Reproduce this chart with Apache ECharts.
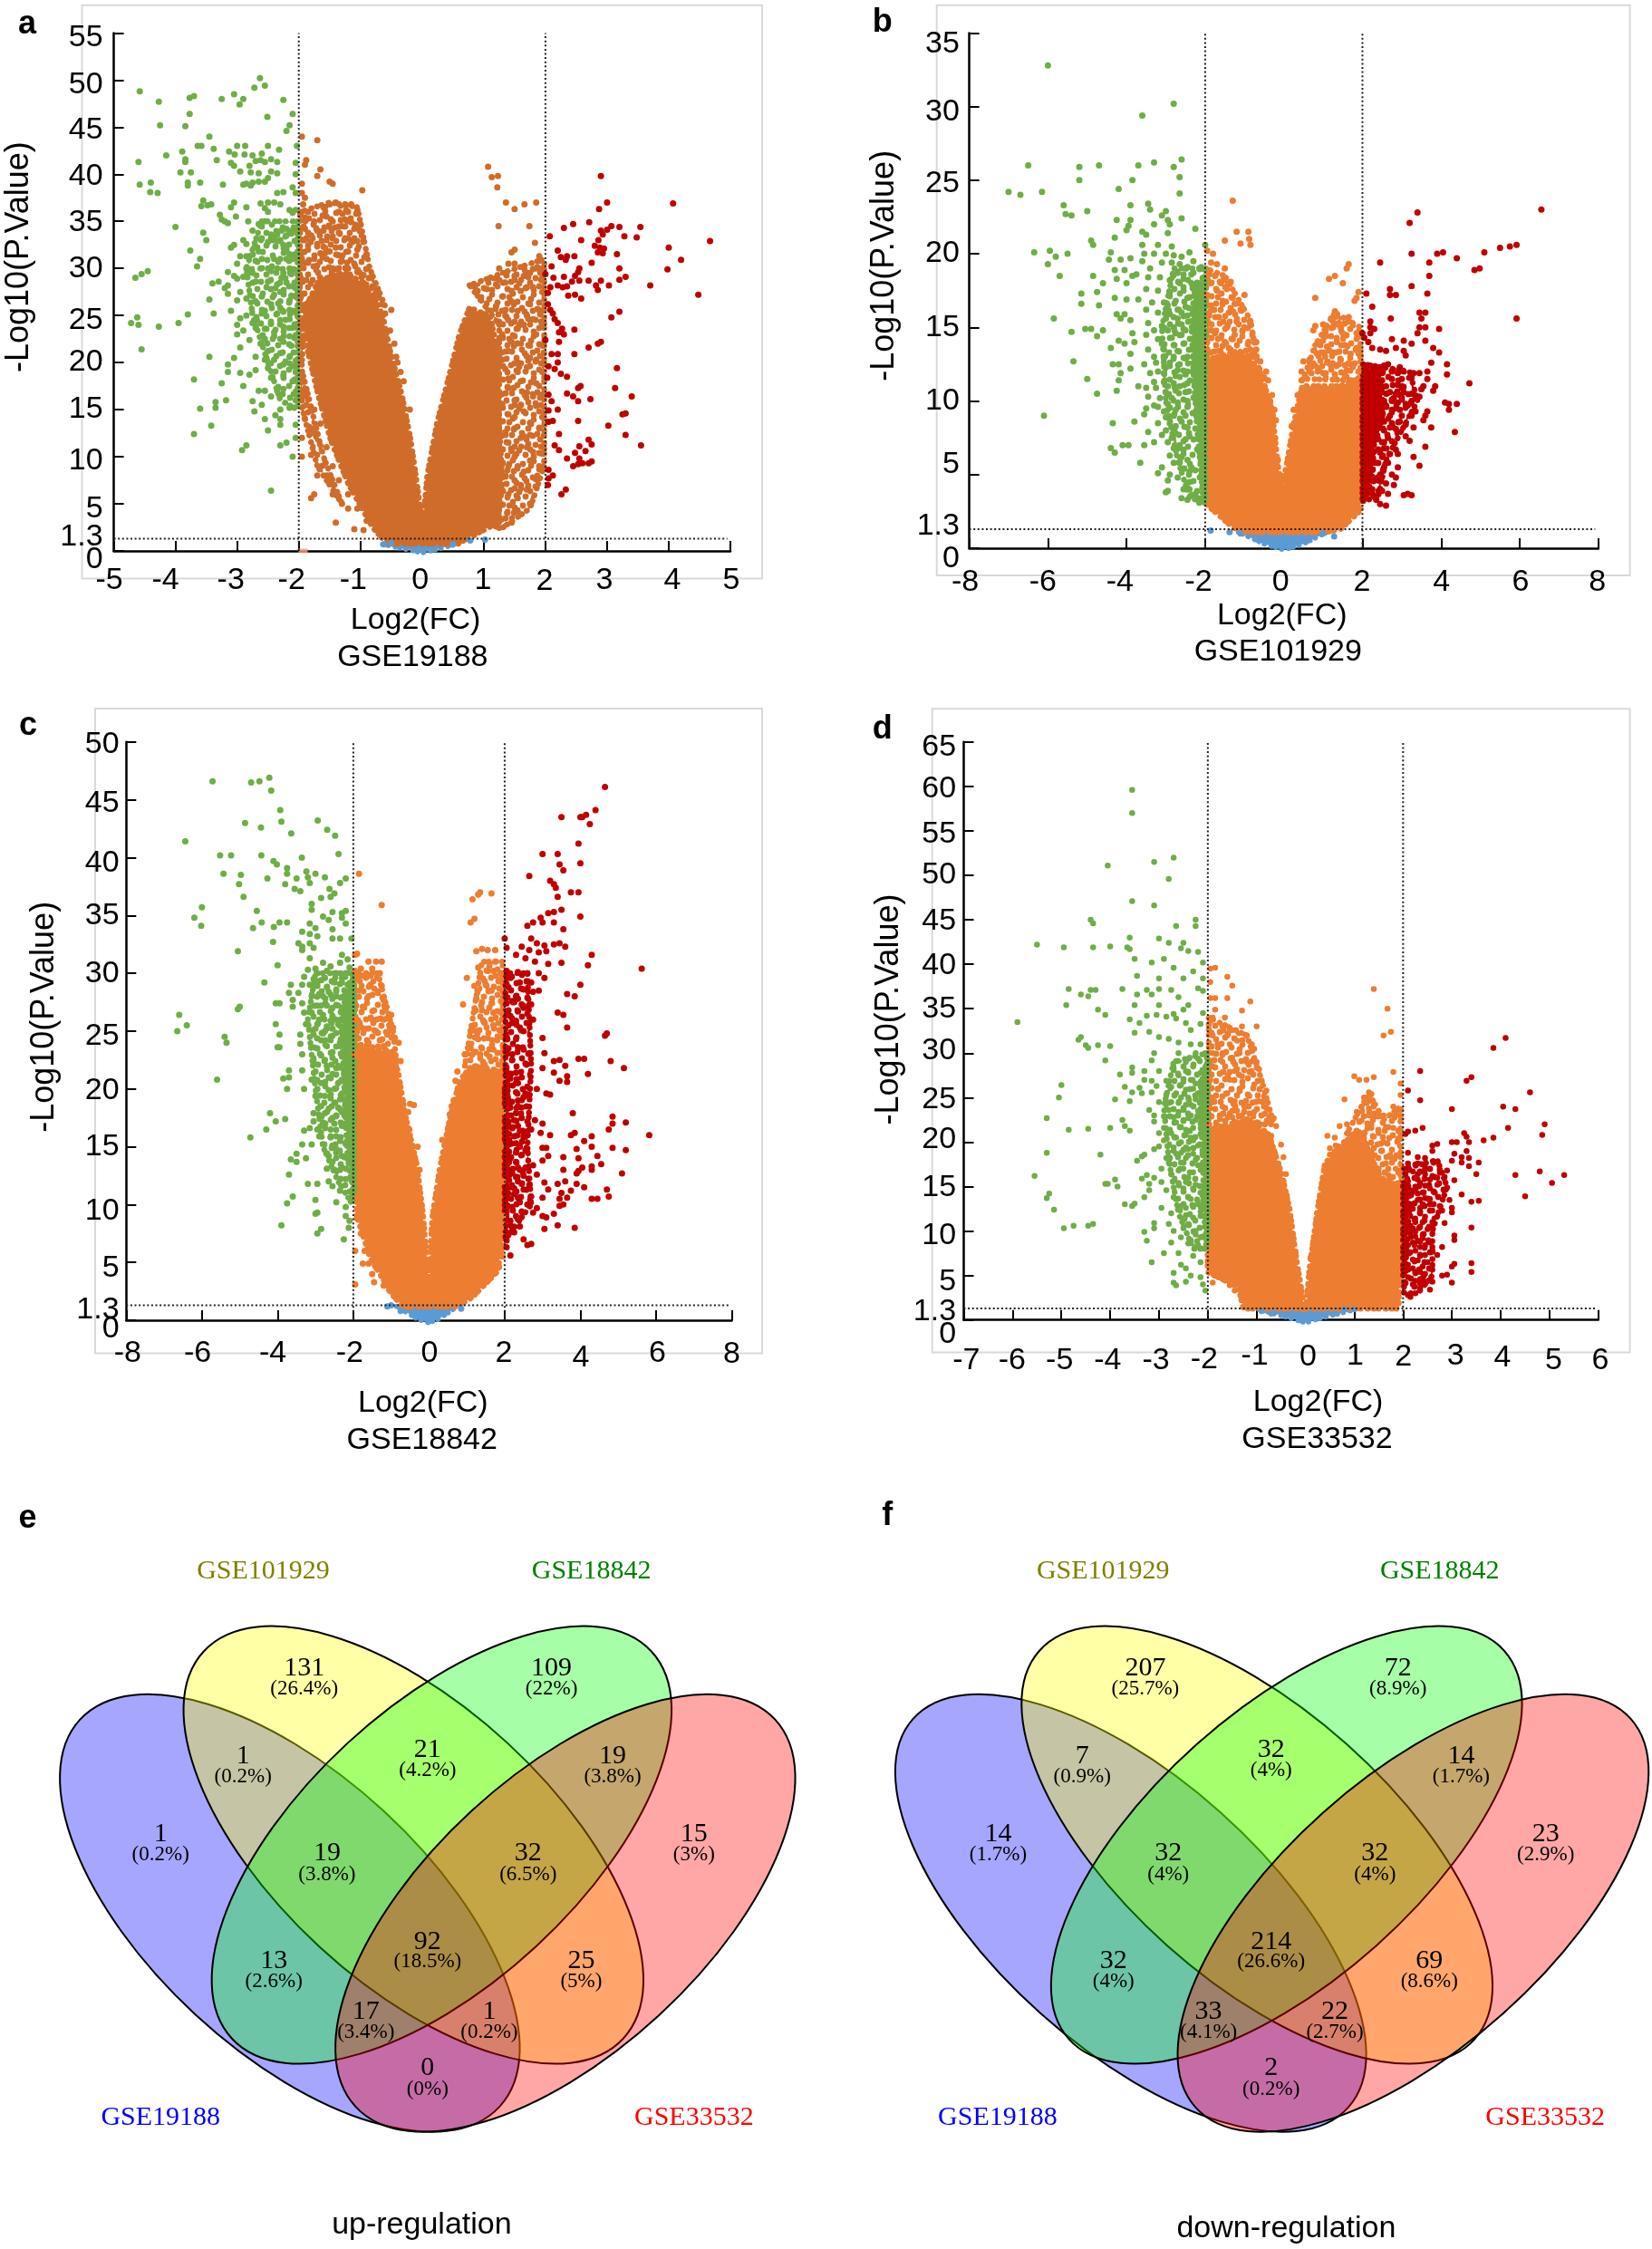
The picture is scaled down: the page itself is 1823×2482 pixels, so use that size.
<!DOCTYPE html>
<html>
<head>
<meta http-equiv="content-type" content="text/html; charset=utf-8" />
<script src="https://cdn.jsdelivr.net/npm/echarts@6/dist/echarts.min.js"></script>
<title>volcano and venn</title>
<style type="text/css">
* {margin:0; padding:0;}
body {background:#fff;}
#main {width:1823px; height:2482px;}
</style>
</head>
<body>
<div id="main"></div>
<script>
// ---- panel a, GSE19188 ----
var aXTicks = [-5,-4,-3,-2,-1,0,1,2,3,4,5];
var aYTicks = [55,50,45,40,35,30,25,20,15,10,5,1.3,0];
var aGreen = [[-4.58,48.8],[-4.27,47.7],[-3.77,48.1],[-3.7,48.3],[-3.25,48],[-3.05,48.5],[-2.9,48],[-2.96,47.4],[-2.72,49.2],[-2.63,50.2],[-2.55,49.4],[-2.25,47.9],[-2.51,46.1],[-2.1,46.4],[-2.15,45.2],[-2.2,44.6],[-4.25,45.2],[-3.77,46.4],[-3.84,45.1],[-3.45,44],[-3.64,43],[-3.58,43],[-3.38,42.7],[-3.89,42.4],[-4.15,42],[-3.84,41.6],[-3.84,41.3],[-4.6,41.3],[-3.33,41.5],[-3.13,42.4],[-3,43],[-2.87,43],[-3.04,42.1],[-2.88,42.1],[-2.5,43],[-2.32,42.6],[-2.03,43],[-3.92,40.2],[-3.75,40.2],[-4.58,38.9],[-4.4,39.1],[-4.41,38.1],[-4.29,38],[-3.8,39.1],[-3.8,38.8],[-3.6,39.1],[-3.23,38.9],[-2.75,42],[-2.6,42.2],[-2.7,41.4],[-2.62,41.5],[-2.55,41.3],[-2.45,41.6],[-2.35,41.3],[-2.05,41.2],[-2.8,40.9],[-3.1,41.2],[-3.05,40.9],[-2.95,40.3],[-2.78,40.2],[-2.65,40.1],[-2.45,40.3],[-2.5,39.6],[-2.35,40.1],[-2.05,40],[-2.85,39],[-2.78,38.8],[-2.9,38.9],[-2.55,39.2],[-2.65,39.2],[-2.75,39.1],[-2.25,38.1],[-2.35,38],[-2.1,38.6],[-2.05,38],[-3.55,37.2],[-3.58,36.6],[-3.48,36.7],[-3.42,36.8],[-3.05,37],[-3.1,36.5],[-2.85,36.5],[-2.62,36.9],[-2.5,37],[-2.4,37],[-2.3,36.8],[-2.55,36.4],[-2.5,36],[-2.15,36.2],[-2.05,36.2],[-2.1,35.9],[-3.28,35.7],[-3.25,35.2],[-3.2,35],[-3.15,34.8],[-3.02,35.5],[-2.82,35],[-2.65,34.7],[-2.55,35],[-2.2,34.2],[-4,34.4],[-2.45,33.6],[-2.4,33.3],[-2.35,33.6],[-2.3,33],[-2.42,33],[-2.35,32.9],[-2.28,34],[-2.2,33.5],[-2.12,33.7],[-2.05,34],[-2.25,32.5],[-2.2,32],[-2.15,31.5],[-2.1,31],[-2.05,31.2],[-2.2,31],[-2.3,31],[-2.4,31],[-2.6,31],[-2.7,30.8],[-3.55,33.8],[-3.5,33],[-3.76,31.9],[-3.6,31],[-3.65,30.2],[-3.05,32.5],[-2.85,32.6],[-2.72,32.2],[-2.95,31.3],[-3,30.5],[-2.85,30],[-2.62,30],[-2.45,29.7],[-2.25,29.5],[-2.05,29.8],[-4.65,29],[-4.55,29.4],[-4.45,29.7],[-3.4,28.4],[-3.3,28.6],[-3.15,28.2],[-3,28.9],[-2.9,29.1],[-2.7,28.6],[-2.5,28.6],[-2.35,28.3],[-2.2,28.5],[-2.1,28.1],[-2.05,27.9],[-3.45,26.7],[-3.15,27.3],[-3,26.6],[-2.85,26.8],[-2.6,27],[-2.4,27.2],[-2.25,27.5],[-2.12,27.1],[-2.3,25.8],[-2.35,25.2],[-2.25,25.4],[-2.15,25.6],[-2.05,25.3],[-2.6,25.2],[-2.85,25],[-3.38,25.2],[-3.8,25.1],[-4.62,24.8],[-4.72,24.2],[-4.6,24],[-3.95,24.2],[-4.27,23.8],[-3,24],[-2.9,23.4],[-2.7,23.7],[-2.45,24.1],[-2.25,23.8],[-2.1,23.7],[-2.05,22.9],[-2.8,22.4],[-2.55,22.5],[-2.4,22.8],[-2.25,22.2],[-4.55,21.4],[-2.95,21.6],[-3.05,20.5],[-3.45,20.6],[-2.7,20.6],[-2.5,21.2],[-2.3,21],[-2.15,20.6],[-2.05,20.2],[-2.1,19.6],[-2.25,19.8],[-3.15,19.8],[-2.95,18.9],[-2.8,18.7],[-2.45,18.4],[-2.05,19],[-3.7,18.2],[-3.25,17.8],[-2.65,17],[-2.55,17],[-2.25,17.2],[-2.05,16.9],[-3.35,15.8],[-3.18,16],[-2.75,15.9],[-2.05,16],[-3.6,15.1],[-3.35,15.2],[-2.72,14.8],[-2.3,15],[-2.15,15.2],[-2.38,14.4],[-2.3,14],[-3.42,13.3],[-2.05,13.4],[-3.7,12.4],[-2.5,12.8],[-2.05,12],[-2.2,11.5],[-2.85,11.2],[-2.92,10.7],[-2.3,11.2],[-2.1,10],[-2.45,6.4],
	[-2.6,33.2],[-2.5,32.8],[-2.15,30],[-2.35,30],[-2.5,30],[-2.28,29],[-2.12,29.4],[-2.45,27.8],[-2.3,27.5],[-2.15,26.6],[-2.3,26.5],[-2.45,26.2],[-2.55,25.5],[-2.15,24.6],[-2.3,24.5],[-2.4,23.2],[-2.15,22.8],[-2.55,23.6],[-2.68,24.5],[-2.62,22],[-2.3,22.5],[-2.12,21.8],[-2.4,20.3],[-2.15,19.9],[-2.25,18.6],[-2.1,18],[-2.35,17],[-2.75,34],[-2.9,33],[-3.1,32.2],[-2.65,31.8],[-2.85,31.3],[-3.15,29.6],[-3.05,29.2],[-2.75,29.5],[-3.2,27.9],[-2.95,27.5],[-2.7,26.5],[-3.1,25.5],[-2.95,24.7],[-2.75,24.2],[-3,23],[-2.55,20.3],[-2.7,19.2],[-2.5,19.4],[-3.15,19],[-2.9,17.5],[-2.45,16.4],[-2.6,15.5],[-2.3,13.4],[-2.55,14]];
var aRed = [[2.9,39.8],[3,37],[2.87,36.3],[4.07,36.9],[4.67,32.9],[4,32.2],[4.2,30.9],[3.98,29.9],[3.7,28.2],[4.48,27.2],[3.54,34.4],[3.48,33.3],[3.28,33.4],[3.2,34.4],[3.07,34.5],[3,34.1],[2.9,34],[2.93,33.6],[2.71,34.9],[2.45,34.7],[2.3,34.3],[2.07,33.4],[2.58,33],[2.86,33],[2.8,32.4],[2.88,32.2],[2.95,32.1],[2.93,31.6],[2.85,31.7],[3.16,31.5],[3.2,30],[2.75,30.6],[2.2,31.9],[2.25,31.2],[2.35,31.3],[2.47,31.3],[2.33,30.9],[2.55,30],[2.53,29.6],[2.48,29.2],[2.1,30.2],[2,29.4],[2.13,29],[2.3,29.1],[2.43,28.6],[2.55,28.7],[2.7,28.7],[2.9,28.7],[2.82,28.2],[3.2,28.8],[3.3,29.1],[3.03,28.2],[2.85,27.7],[2.2,28.2],[2.08,28],[2.04,27.4],[2.35,28.1],[2.28,28],[2.37,27.1],[2.48,27.2],[2.58,26.8],[2.04,26.2],[2.08,25.6],[2.12,25.2],[2.15,24.6],[2.2,24.2],[2.27,23.6],[2.22,23.2],[2.3,23],[2.47,23.5],[2.22,22.2],[2,22.4],[3.2,25.4],[3.07,24.8],[2.9,22.2],[2.85,22],[2.7,21.6],[2.1,20.9],[2.2,20.9],[2.47,20.9],[2.05,19.6],[2.15,19.3],[2.2,20],[2.25,18.8],[2.35,18.5],[2.03,18.4],[3.16,19.4],[2.57,17.5],[2.53,17.3],[3.13,17.3],[3.4,16.4],[2.05,16.6],[2.35,16.7],[2.45,16.4],[2.73,16.1],[2.53,15.9],[2.1,15.9],[2.05,14.9],[2.2,15],[3.3,14.6],[3.25,14.5],[2.53,13.8],[2.12,13.8],[2.05,13.7],[3.02,13.3],[3.3,12.3],[2.22,12.4],[2.7,11.8],[2.75,11.3],[2.55,11.1],[2.15,11.2],[2.22,10.7],[3.55,11.2],[2.48,10.4],[2.65,10.6],[2.35,9.8],[2.55,9.8],[2.7,9.3],[2.53,9.2],[2.6,9.3],[2.75,9.5],[2.45,9],[2.05,8.6],[2.12,8],[2.05,7.7],[2.04,7],[2.33,6.5],[2.26,6]];
var aOrange = [[-1.95,44],[-1.7,43.6],[-1.88,41.5],[-1.9,41],[-1.65,40.5],[-1.7,39.8],[-1.5,39.2],[-1.45,39],[-1.95,39],[-1.95,38],[-1.9,37.5],[-1.93,36.8],[-0.97,38.3],[-1.85,36],[-1.6,36.5],[-1.5,36.8],[-1.4,37],[-1.25,36.8],[-1.15,36.8],[-1.2,36],[-1.35,36],[-1.9,35.4],[-1.75,35],[-1.55,35.5],[-1.45,35],[-1.05,36.2],[-1,34.6],[-1.1,34.2],[-1.3,34.5],[-1.6,34],[-1.8,33.5],[-1.45,33.4],[-1.25,33.2],[-0.95,32.8],[-0.9,31.5],[-1.05,32],[-1.2,31.8],[-1.4,32.2],[-1.6,32.3],[-1.85,32],[-1.95,31],[-1.75,31],[-1.55,31],[-1.3,30.8],[-1.1,30.5],[-0.85,29],[-0.75,27.5],[-0.65,26.2],[-0.5,25.6],[-0.45,22],[-0.4,20],[-0.3,18],[-0.2,15],[-1.95,16],[-1.9,14],[-1.95,12],[-1.8,13],[-1.95,10],[-1.8,10.2],[-1.7,8],[-1.75,6],[-1.8,5.6],[-1.55,8],[-1.45,6],[-1.3,5],[-1.2,4.5],[-1.4,3],[-1.1,2.3],[-0.95,2.2],[1.07,40.8],[1.13,39.7],[1.23,39.8],[1.22,38.6],[1.36,37],[1.5,36.3],[1.66,36.8],[1.85,37],[1.24,34.5],[1.74,34.5],[1.83,32.7],[1.5,32],[1.45,31.7],[1.9,31.3],[1.25,30],[1.4,30.5],[1.5,30.5],[1.85,30],[1.75,29.5],[1.65,29.2],[1.5,29.2],[1.35,28.5],[1.2,28.3],[1.05,27.8],[0.8,28.2],[0.9,27.6],[1.95,29],[1.95,27.5],[1.8,28],[1.6,27.6],[1.45,26.5],[1.3,27],[1.75,26.2],[1.55,25.5],[1.9,25.6],[1.8,24.6],[1.4,24.5],[1.65,24],[1.95,24],[1.85,23],[1.5,22.8],[1.3,23],[1.6,22],[1.75,21.8],[1.95,21.8],[1.4,21.2],[1.85,20.3],[1.55,20],[1.7,19.5],[1.35,19.3],[1.95,19],[1.6,18],[1.85,17.8],[1.4,17.3],[1.7,16.8],[1.95,16.6],[1.5,16],[1.85,15.4],[1.65,14.8],[1.4,14.5],[1.95,14.2],[1.75,13.6],[1.5,13],[1.9,13],[1.6,12],[1.4,11.5],[1.7,11],[1.95,10.3],[1.5,10],[1.75,9.6],[1.4,9],[1.9,9],[1.65,8.4],[1.5,7.5],[1.85,7.6],[1.7,6.5],[1.55,5.6],[1.75,5],[1.5,4.6],[1.38,4],[1.2,2.6],
	[-1.9,34.2],[-1.7,34],[-1.5,34.4],[-1.25,35.2],[-1.15,34.9],[-1.35,33.8],[-1.55,33],[-1.7,32.6],[-1.9,33],[-1.15,33],[-1.05,32.9],[-1.35,31.4],[-1.5,31.8],[-1.65,31.6],[-1.85,30.6],[-1.7,30.3],[-1.45,30],[-1.2,30],[-1.05,29.6],[-0.95,29.3],[-0.8,28],[-0.7,26.9],[-0.6,25.2],[-0.52,23.4],[-0.42,20.6],[-0.35,19],[-1.97,29],[-1.97,27],[-1.97,24],[-1.97,22],[-1.97,20],[-1.93,18],[-1.9,16.5],[-1.75,15],[-1.65,13.5],[-1.55,11],[-1.45,9],[-1.35,7.5],[-1.2,6],[-1.05,4.5],[-0.9,3.2],[1.45,3],[1.55,4.2],[1.4,6],[1.6,7],[1.35,8],[1.55,9],[1.45,10.6],[1.8,10.5],[1.35,12.6],[1.75,12.3],[1.5,14.2],[1.3,15.6],[1.6,15.5],[1.8,16.4],[1.4,18.3],[1.55,19],[1.75,20.5],[1.3,20.3],[1.45,22.2],[1.55,23.6],[1.35,25],[1.7,25],[1.2,26],[0.95,26.7],[1.45,27.6],[1.7,28],[1.2,29],[1.95,30]];
var aBody = [[0,2.5],[-0.07,6.3],[-0.19,11.8],[-0.33,16.5],[-0.52,21.2],[-0.64,24.9],[-0.88,28.2],[-1.28,29.6],[-1.68,28.6],[-1.89,25.8],[-1.85,21.2],[-1.68,16.5],[-1.48,11.8],[-1.2,7.2],[-0.8,2.5],[-0.56,0.75],[0.57,0.75],[1.22,3],[1.3,7.2],[1.26,11.8],[1.22,16.5],[1.22,21.2],[1.1,24.9],[0.77,25.8],[0.61,23],[0.45,18.8],[0.25,13.7],[0.09,8.1],[0.01,2.5]];
var aOrangeZones = [[[-1.98,36],[-1.5,37],[-1.05,36.5],[-0.85,30],[-0.6,26],[-1.2,28],[-1.9,26],[-1.98,16],[-1.7,9],[-1.3,5],[-1.6,10],[-1.98,20]],[[0.77,28.2],[1.3,29.5],[1.98,31],[1.98,9],[1.75,4.5],[1.25,2.2],[1.25,24]]];
var aGreenZones = [[[-2.02,35],[-2.6,35],[-2.85,30],[-2.75,25],[-2.5,20],[-2.3,16],[-2.02,15]]];
var aRedZones = [];
var aBlue = [[-0.64,0.7],[0.65,0.9],[0.2,0.1],[0,-0.2],[-0.2,0.1]];
var aBlueDots = [[1.02,1.2],[0.78,1.1],[0.5,0.7],[-0.62,0.7],[-0.5,0.8]];

// ---- panel b, GSE101929 ----
var bXTicks = [-8,-6,-4,-2,0,2,4,6,8];
var bYTicks = [35,30,25,20,15,10,5,1.3,0];
var bGreen = [[-6,32.8],[-2.8,30.2],[-3.6,29.4],[-6.5,26],[-5.2,25.9],[-4.7,26],[-3.7,26],[-3.3,26.2],[-2.8,25.9],[-2.6,26.4],[-2.65,25.2],[-5.2,25],[-3.85,25],[-4.2,24.4],[-6.15,24.2],[-7,24.2],[-6.7,24],[-2.65,24.1],[-5.6,23.3],[-3.9,23.3],[-3.45,23.4],[-3.4,23],[-5.55,22.7],[-5.4,22.6],[-5,22.9],[-3,22.9],[-3.1,22.6],[-2.95,22.3],[-4.25,22.3],[-3.9,22.3],[-2.6,22.4],[-3.3,22],[-2.9,22],[-3.95,21.9],[-3.6,21.5],[-4,21.6],[-2.25,21.7],[-2.95,21.4],[-3.5,21.3],[-4.3,21.1],[-4.9,20.9],[-4.85,20.6],[-2,20.6],[-6.35,20.1],[-5.95,20.2],[-5.8,19.8],[-5.5,20],[-4.4,20.1],[-6,19.3],[-3.6,20.6],[-3.2,20.6],[-2.85,20.5],[-3.55,20],[-3.3,20],[-3,20],[-2.8,19.9],[-2.6,19.8],[-2.4,20.1],[-4.45,19.6],[-4.15,19.6],[-3.9,19.7],[-3.6,19.5],[-3.1,19.4],[-2.85,19.4],[-2.65,19.3],[-2.45,19.1],[-2.1,19.1],[-3.4,19],[-4.3,18.9],[-4.05,18.9],[-3.75,18.6],[-3.45,18.4],[-3.15,18.4],[-2.9,18.2],[-2.65,18],[-4.85,18.5],[-5.7,18.5],[-4.6,18],[-4.25,18.3],[-4,18],[-3.85,18.5],[-3.5,17.6],[-3.2,17.5],[-2.9,17.4],[-2.55,17.5],[-5.15,17.3],[-4.75,17.4],[-4.3,17],[-4,16.9],[-3.7,16.9],[-3.35,16.7],[-3.05,16.7],[-2.75,16.8],[-5.15,16.6],[-4.7,16.5],[-3.5,16.2],[-3.2,16],[-2.9,15.9],[-2.6,16],[-4.25,15.9],[-4.05,15.9],[-4.15,15.6],[-3.9,15.5],[-5.85,15.6],[-4.9,14.9],[-4.6,14.8],[-3.45,15.3],[-3.1,15.1],[-2.8,15],[-5.4,14.7],[-5.05,14.9],[-4.75,14.4],[-3.85,14.6],[-3.5,14.5],[-3.2,14.2],[-2.85,14.3],[-2.6,14.5],[-4.2,14.1],[-4.05,13.9],[-3.8,14],[-3.45,13.5],[-3.05,13.5],[-2.7,13.4],[-4.4,13.6],[-4.35,12.5],[-4.2,12.5],[-5.35,12.7],[-3.9,13.2],[-3.55,12.5],[-3.25,12.6],[-2.9,12.6],[-2.65,12.5],[-4.15,11.9],[-3.9,12.2],[-3.4,11.9],[-3.05,11.9],[-2.75,11.7],[-5,11.5],[-4.2,11.4],[-3.7,11],[-3.5,10.9],[-3.25,10.9],[-2.95,11],[-2.65,11],[-4.75,10.5],[-4.25,10.7],[-3.45,10.3],[-3.15,10.2],[-2.85,10.2],[-6.1,9],[-3.5,9.5],[-3.3,9.7],[-3.05,9.3],[-2.75,9.4],[-4.35,8.5],[-3.8,8.6],[-3.55,9.1],[-3.2,8.5],[-2.9,8.5],[-2.6,8.6],[-3.45,7.9],[-3.1,7.7],[-2.75,7.8],[-3.3,7.2],[-2.95,7.2],[-2.65,7],[-3.55,7],[-3.95,7],[-4.1,7],[-4.4,6.8],[-4.3,6.5],[-2.9,6.3],[-2.6,6.2],[-3.65,5.8],[-3.1,5.5],[-2.8,5.8],[-2.55,5.4],[-3.2,5.1],[-2.9,5],[-2.95,4.6],[-2.4,4.5],[-2.55,4],[-2.95,3.9],[-3,3.8],[-2.35,3.6],[-2.45,3.3],[-2.2,3.4],[-2.15,3.1],[-2.4,5.2],[-2.5,7.4],[-2.45,9.6],[-2.5,11.8],[-2.45,13],[-2.6,15.2],[-2.45,17],[-2.35,18.6],[-2.2,17.4],[-2.15,19],
	[-2.5,19],[-2.3,19.5],[-2.7,18.7],[-2.35,18],[-2.55,18.3],[-2.5,16.4],[-2.7,16.2],[-2.95,16.5],[-2.45,15.8],[-2.7,15.6],[-3,15.6],[-2.5,14.8],[-2.75,14.6],[-2.95,14.8],[-3.3,14.8],[-2.55,13.9],[-2.8,13.8],[-3.1,13.9],[-2.5,12.9],[-2.8,13],[-3.3,13],[-3.05,12.9],[-2.45,12],[-2.7,12.1],[-3,12.3],[-3.2,12],[-2.45,11.2],[-2.8,11.2],[-3.05,11.3],[-3.3,11.3],[-2.5,10.6],[-2.75,10.7],[-3,10.6],[-3.2,9.6],[-2.45,10],[-2.7,9.9],[-2.95,9.8],[-2.5,9],[-2.8,9],[-3,8.9],[-2.45,8.2],[-2.75,8.3],[-3,8],[-2.4,7.6],[-2.85,7.5],[-2.55,6.7],[-2.8,6.8],[-2.45,6],[-2.65,5.8],[-2.35,5.5],[-2.7,4.8],[-2.4,4],[-2.25,3.7],[-2.6,3.4]];
var bGreenBody = [[-2,18],[-2.25,18],[-2.35,15.5],[-2.3,12],[-2.2,8],[-2.1,5],[-2.05,3.2],[-2,3.2]];
var bRed = [[6.55,23],[3.4,22.8],[3.2,22.1],[5.92,20.6],[5.75,20.5],[5.5,20.4],[5.1,20.1],[4.05,20.1],[3.9,20],[3.25,20],[4.4,19.7],[4.98,19],[4.85,18.9],[2.45,19.4],[3.7,19.4],[3.7,18.5],[3.25,17.8],[2.7,17.6],[2.1,17.3],[2.7,17.2],[2.85,17.2],[3.65,17.3],[5.92,15.6],[2.25,16.4],[3.45,16],[3.6,16],[3.5,15.6],[2.72,15.6],[2.2,15.4],[2.2,15],[2.3,14.9],[2.2,14.6],[3.45,15],[3.6,15],[3.4,14.6],[3.95,14.9],[2,14.6],[2.05,14.3],[2.15,14],[2.75,14.2],[3.05,14.1],[3.6,14.1],[2.25,13.6],[2.45,13.5],[2.6,13.4],[2.85,13.6],[3.25,13.9],[3.05,13.4],[3.8,13.6],[3.95,13.3],[3.1,13.1],[3.75,12.6],[4.15,12.5],[2.2,12.4],[2.4,12.3],[2.55,12.4],[2.65,12.5],[2.9,11.9],[3.45,11.9],[3.05,12],[3.65,12],[4.15,11.8],[3.3,11.9],[2.5,11.4],[2.75,11.5],[3,11.5],[3.25,11.6],[3.65,11.5],[2.6,11],[3,11],[3.55,11],[3.85,11],[4.72,11.2],[2.85,10.5],[3.05,10.6],[3.25,10.5],[3.5,10.8],[3.8,10.7],[2.6,10.5],[2.75,10],[3,10.1],[3.25,10],[3.45,10.3],[3.15,9.7],[2.6,9.7],[2.85,9.5],[3.35,9.3],[4.2,9.8],[4.1,9.9],[4.4,9.8],[4.2,9.4],[3.65,9.3],[3,9],[2.7,9],[3.25,9],[3.6,9],[3.55,8.7],[3.3,8.2],[3.1,8.4],[2.85,8.1],[3.75,8.2],[4.35,7.9],[3.1,7.6],[2.65,7.5],[3.2,7.3],[3.6,6.9],[2.55,6.8],[2.85,6.7],[2.9,6.4],[2.5,6.2],[3.3,6.2],[3.45,5.6],[2.65,5.8],[2.9,5.5],[2.75,5],[2.85,4.8],[2.4,4.6],[2.6,4.4],[2.8,4.3],[2.5,3.9],[2.65,3.7],[3.15,3.7],[3.25,3.6],[3.05,3.6],[2.3,3.5],[2.45,3],[2.6,2.9],
	[2.5,11.9],[2.75,12],[2.95,12.3],[2.35,11.2],[2.9,11.1],[2.45,10.7],[2.7,10.6],[2.95,10.4],[2.4,10],[2.55,10],[2.9,9.9],[2.35,9.4],[2.5,9.2],[2.75,9.4],[2.95,9.4],[2.35,8.8],[2.55,8.6],[2.75,8.5],[2.95,8.6],[2.35,8],[2.55,8],[2.7,8.2],[2.4,7.4],[2.55,7.2],[2.3,6.6],[2.45,6.5],[2.7,6.4],[2.35,5.8],[2.55,5.5],[2.25,4.8],[2.45,5],[2.25,4],[2.35,3.3],[3,10.9],[2.8,10.2],[3.1,9.8]];
var bRedBody = [[2,12],[2.35,12.3],[2.5,11],[2.5,8.8],[2.3,7.2],[2.25,5],[2.12,3.5],[2,3.2]];
var bOrange = [[-1.3,23.6],[-1.2,21.5],[-0.9,21.5],[-0.88,21],[-1.1,20.7],[-0.85,20.6],[-1.5,20.9],[-1.95,20.2],[-1.8,20],[-1.85,19.4],[-1.7,19.3],[-1.5,19],[-1.9,18.6],[-1.75,18.5],[-1.85,18],[-1.6,18],[-1.35,18.1],[-1.45,17.6],[-1.7,17.5],[-1.95,17.2],[-1.3,17],[-1,17.2],[-1.55,16.8],[-1.25,16.6],[-1.85,16.5],[-1.1,16.2],[-1.4,16],[-1.9,15.8],[-1.65,15.7],[-1.2,15.4],[-0.85,15.3],[-1.45,15],[-1.85,14.8],[-1.05,14.8],[-0.8,14.5],[-1.6,14.3],[-1.3,14.2],[-0.9,14],[-1.95,14],[-1.65,13.4],[-0.7,13.5],[-0.75,13],[-0.6,12.7],[-0.45,12],[-0.4,11.4],[-0.3,10.4],[-0.24,9.4],[-0.2,8.7],[-1.4,13.6],[-1.15,13.2],[0.8,17],[1.15,18.3],[1.3,18.5],[1.6,19],[1.65,19.3],[1.5,18],[1.9,17.4],[1.85,17],[1.8,16.8],[0.8,15.1],[1.3,16.1],[1.3,15.7],[1.4,15.3],[1.25,15],[1.65,15.7],[0.75,14.8],[1.05,14.4],[1.2,14.4],[1.5,14.6],[1.85,14.6],[1.35,14],[1.1,13.7],[0.95,13.3],[1.55,13.8],[1.85,13.6],[1.95,13],[1.25,13.3],[0.5,12.7],[0.65,12.8],[0.8,12.4],[1.1,12.6],[1.45,12.8],[1.7,12.5],[0.45,12],[0.7,11.9],[1,11.9],[1.3,11.8],[1.55,11.8],
	[-1.95,13.5],[-1.75,14.6],[-1.5,14],[-1.25,14.5],[-1,15],[-0.7,14],[-0.85,13.5],[-0.5,11.6],[-0.35,10],[-0.28,9],[-0.22,7.5],[-0.15,6],[-0.1,5],[0.2,8.3],[0.25,9.4],[0.35,10.4],[0.45,11.4],[0.55,11.6],[0.9,12.2],[1.2,12.4],[1.6,12.1],[1.9,12],[1.4,12.5],[1.05,13],[1.7,13.2],[1.45,15],[1,15.2],[1.2,15.6]];
var bBody = [[-0.05,3.5],[-0.18,6.2],[-0.31,9.5],[-0.63,12.2],[-1.15,13.4],[-1.93,12.8],[-2.05,4.4],[-1.93,2.9],[-1.28,1.4],[-1,1.1],[1.05,1.1],[1.44,1.3],[1.95,2.6],[1.95,11.6],[1.44,11],[0.47,11],[0.27,8.6],[0.01,4.7]];
var bOrangeZones = [[[-1.98,19],[-1.5,18.5],[-0.85,15.5],[-0.63,12.2],[-1.95,12.8]],[[0.5,11.5],[0.8,13.8],[1.3,16],[1.95,15],[1.95,11.4]]];
var bGreenZones = [[[-2.02,19],[-2.8,19],[-3.1,15],[-3,10],[-2.7,6],[-2.4,3.5],[-2.02,3]]];
var bRedZones = [[[2.02,12.5],[3.2,12],[3.4,10],[3,8],[2.6,6],[2.4,3.5],[2.02,3.2]]];
var bBlue = [[-1.15,1.1],[1.1,1.1],[0.5,0.3],[0,-0.1],[-0.5,0.3]];
var bBlueDots = [[-1.86,1.2],[-1.38,1.1],[1.28,0.8],[-1.1,1],[1,1]];

// ---- panel c, GSE18842 ----
var cXTicks = [-8,-6,-4,-2,0,2,4,6,8];
var cYTicks = [50,45,40,35,30,25,20,15,10,5,1.3,0];
var cGreen = [[-5.72,46.6],[-4.7,46.5],[-4.48,46.6],[-4.22,46.9],[-4.17,45.8],[-3.93,44.1],[-3.9,43.1],[-4.86,43],[-4.44,42.6],[-3.64,42.1],[-2.94,43.2],[-2.69,42.4],[-2.48,41.9],[-6.44,41.4],[-5.52,40.2],[-5.23,40.2],[-4.43,40.2],[-4.11,39.7],[-4.02,39.4],[-3.36,40],[-2.39,40.3],[-3.75,39.1],[-5.43,38.6],[-4.97,38.5],[-4.27,38.2],[-3.75,38.6],[-3.5,38.2],[-3.24,38.8],[-3.2,38.3],[-3,38.6],[-2.75,38.3],[-2.35,37.8],[-2.2,38.2],[-5.02,37.7],[-3.8,37.7],[-3.55,37.3],[-3.4,37.1],[-3.15,37.8],[-2.63,37.3],[-2.5,36.9],[-4.9,36.6],[-2.85,36.5],[-2.6,36.6],[-3.1,36],[-3.1,35.5],[-4.55,35.4],[-2.55,35.3],[-2.3,35.2],[-2.2,35.4],[-6.2,34.8],[-6,35.7],[-6.02,34.1],[-4.42,34.4],[-4.65,33.9],[-4.1,34],[-3.95,34.4],[-3.75,34.4],[-2.8,34.9],[-2.65,34.6],[-2.3,34.8],[-2.2,34.3],[-3.15,34.3],[-3,33.9],[-3.35,33.6],[-2.55,33.8],[-3.15,33.4],[-2.95,33.2],[-2.55,33],[-2.35,33],[-2.05,33],[-4.12,32.7],[-3.45,32.6],[-3.35,32.3],[-3.15,32.6],[-3.05,32.2],[-3.35,32],[-5.05,31.9],[-2.3,31.6],[-2.15,31.2],[-3.15,31.3],[-2.8,30.9],[-2.6,30.6],[-2.35,30.9],[-2.1,30.5],[-4,30.7],[-3.2,30.3],[-3,30.4],[-2.7,30.2],[-2.45,30],[-2.2,30],[-3.3,29.7],[-3.05,29.5],[-2.85,29.4],[-2.55,29.3],[-2.3,29.2],[-3.35,29],[-3.15,29],[-2.95,28.9],[-2.7,28.8],[-2.45,28.6],[-4.35,29.2],[-3.65,29],[-3.7,28.3],[-3.45,28.3],[-3.1,28],[-2.8,28],[-2.55,27.8],[-3.6,27.7],[-3.35,27.4],[-2.95,27.2],[-2.7,27.2],[-2.4,27.2],[-4.05,27.4],[-3.95,27.4],[-5.05,26.9],[-5,27.1],[-3.6,27.1],[-3.3,26.6],[-3.1,26.6],[-2.8,26.4],[-2.55,26.3],[-6.6,26.4],[-6.4,25.5],[-6.65,25],[-4.05,25.6],[-3.25,25.6],[-2.95,25.6],[-2.7,25.4],[-2.4,25.6],[-3.95,24.7],[-3.4,24.7],[-3.05,24.7],[-2.8,24.8],[-2.55,24.6],[-5.4,24.5],[-5.35,24],[-3.4,23.9],[-3.95,23.6],[-4,23.6],[-2.95,23.5],[-2.7,23.7],[-2.35,23.7],[-3.35,23],[-2.85,22.9],[-2.55,22.7],[-3.05,22.3],[-2.7,22],[-2.4,22],[-3.35,21.6],[-3,21.5],[-2.55,21.3],[-3.85,20.9],[-3.7,21],[-5.6,20.8],[-3.7,21.6],[-3.1,20.8],[-2.85,20.5],[-2.4,20.5],[-3.75,20],[-3.3,20],[-2.95,20],[-2.65,19.9],[-3,19.4],[-2.6,19.2],[-2.35,19.1],[-2.85,18.5],[-2.4,18.4],[-4.2,17.9],[-3.05,17.9],[-2.75,17.9],[-2.45,17.7],[-4.05,17.2],[-3.8,17.4],[-3.05,17.2],[-2.8,17.1],[-2.5,17],[-4.3,16.5],[-3.3,16.4],[-3.15,16.6],[-2.95,16.5],[-2.6,16.5],[-4.72,15.8],[-2.9,15.9],[-2.45,15.9],[-3.35,15.2],[-3.1,15.2],[-2.55,15.1],[-3.5,14.4],[-3.65,13.9],[-3.5,13.7],[-3.25,14],[-2.65,14.2],[-2.45,14.5],[-3.7,12.6],[-2.7,13.1],[-2.5,13],[-2.35,13],[-3.2,11.8],[-2.95,11.8],[-2.65,12],[-2.55,11.6],[-2.35,11.2],[-3.6,10.7],[-3.75,10.1],[-3,10.4],[-2.45,10.2],[-2.95,9.3],[-3,9.2],[-2.2,9.8],[-2.2,9],[-3.9,8.2],[-2.1,8.6],[-2.12,8],[-2.85,7.9],[-2.95,7.5],[-2.25,7],
	[-2.3,29.6],[-2.15,29],[-2.5,29.2],[-2.75,29.6],[-2.95,30],[-2.25,28],[-2.45,28],[-2.65,28.4],[-2.9,28.2],[-2.3,27],[-2.55,27],[-2.85,27.2],[-2.35,26],[-2.6,25.9],[-2.9,26],[-2.3,25],[-2.55,25.2],[-2.75,25],[-3,25.2],[-2.35,24],[-2.6,24.2],[-2.85,24.2],[-2.55,23.2],[-2.3,22.8],[-2.75,22.5],[-2.45,21.8],[-2.65,21],[-2.3,20.8],[-2.5,20],[-2.3,19.6],[-2.75,19.4],[-2.5,18.8],[-2.65,18.3],[-2.3,18],[-2.55,17.5],[-2.3,16.8],[-2.6,15.8],[-2.35,15.5],[-2.45,14.8],[-2.3,14.2],[-2.55,13.7],[-2.3,13.2],[-2.2,12.2]];
var cGreenBody = [[-1.98,29],[-2.2,28.6],[-2.3,25],[-2.25,21],[-2.2,17],[-2.15,14],[-2.05,12],[-1.98,11]];
var cRed = [[4.65,46.1],[4.4,44.1],[3.5,43.5],[4,43.5],[4.05,43.5],[4.15,43.7],[4.25,42.9],[3.95,41.2],[3,40.3],[3.4,40.3],[4,39.5],[3.45,39.4],[3.55,38.9],[2.65,38.4],[3.2,38],[3.3,37.7],[3.35,37.4],[3.4,36.6],[3.75,37],[3.95,37],[3.5,35.5],[3.3,35.3],[3.15,35.2],[4,34.9],[2.95,34.8],[2.75,34.4],[3,34.4],[3.3,34.4],[3.55,33.8],[2.6,34.1],[2.7,33],[3.45,32.6],[2.85,32.6],[3.05,32.4],[3.3,32.5],[3.6,32.3],[2,33],[2.05,32.2],[2.45,32.3],[2.65,32],[2.9,31.8],[3.1,31.9],[4.3,31.6],[2.3,31.6],[2.55,31.3],[2.8,31],[3.15,30.8],[3.5,30.9],[4.2,30.7],[2.05,30.2],[2.35,30.1],[2.6,30],[2.9,30],[5.62,30.4],[2.15,29.6],[2.4,29.2],[2.7,29.2],[3.05,29.6],[4,29],[2.1,28.8],[2.5,28.6],[2.75,28.4],[2.9,28.5],[3.65,28.2],[3.85,28],[2.3,28],[2.6,27.9],[2.05,27.4],[2.25,27.5],[2.45,27.3],[2.7,27.3],[3.4,26.6],[3.55,26.4],[2.1,26.8],[2.35,26.7],[2.6,26.5],[2.75,26],[3.65,25.3],[2.2,25.7],[2.4,25.3],[2.5,25],[2.05,24.5],[2.3,24.3],[3,24.4],[4.65,24.6],[4.7,24.8],[2.1,23.5],[2.5,23.4],[2.65,23.1],[3.05,23.1],[2.2,22.5],[2.55,22.2],[3.3,22.4],[3.45,22.5],[3.6,22],[3.95,22.6],[4.1,22.6],[4.8,22.4],[3,21.8],[2.05,21.5],[2.3,21.4],[3.3,21.4],[2.15,20.9],[5.15,21.8],[3.45,20.7],[3.65,20.6],[3.65,21.1],[4.2,21.3],[2.1,20.3],[2.35,20.5],[2.6,20.2],[2.85,20],[2.05,19.7],[2.3,19.7],[2.55,19.6],[3.1,19.6],[3.2,19.5],[2.1,19],[2.35,19],[2.15,18.4],[2.45,18.4],[2.1,17.7],[2.25,17.3],[3.8,17.9],[2.6,17.2],[2.8,17.3],[3,17],[4.85,17.6],[4.85,17],[5.2,17.1],[2.2,16.6],[2.4,16.4],[2.7,16.5],[2.95,16.2],[4.75,16.5],[2.25,15.9],[2.5,15.8],[3.2,16],[3.75,16],[3.85,16.2],[4.3,15.9],[5.82,16],[2.15,15.3],[2.4,15],[4.1,15.5],[2.05,14.9],[2.3,14.5],[2.55,14.7],[3,14.9],[3.1,14.9],[3.9,14.8],[4.3,15],[4.85,14.9],[5.2,14.7],[2.15,14],[3.15,14.2],[3.55,14.1],[3.95,14],[4.45,14.2],[4.55,13.5],[4.3,13.3],[2.05,13.5],[2.35,13.2],[2.75,13.4],[3,13.8],[4.05,13.2],[4.3,13],[2.2,12.7],[2.5,12.5],[2.85,12.6],[3.55,13],[3.9,12.7],[3.95,12.9],[5.1,12.7],[2.35,12],[2.65,11.7],[3.4,11.8],[3.6,12],[3.9,11.8],[3.05,11.9],[4.1,11.5],[2.1,11.5],[2.5,11.3],[3.15,11.3],[3.5,11],[3.75,11.2],[4.7,11.3],[2.25,10.9],[2.7,10.7],[3,10.6],[3.45,10.5],[3.65,10.6],[4.3,10.5],[4.45,10.5],[4.75,10.7],[2.4,10.2],[2.6,10],[2.85,9.7],[3.45,9.9],[3.55,10],[2.45,9.4],[2.75,9.3],[3.3,9.2],[3,9],[3.1,8.9],[2.15,8.2],[2.4,8.1],[3.4,8.2],[3.85,8],[3.05,7.9],[2.1,7.5],[2.5,7],[2.05,6.9],[2.6,6.5],[2.7,6.6],[2.05,6.3],[2.15,5.6],
	[2.2,27.6],[2.35,27.8],[2.5,27],[2.15,26.3],[2.3,25.9],[2.1,25.5],[2.35,23.6],[2.2,23],[2.45,21],[2.3,20.5],[2.5,19.3],[2.35,18.5],[2.3,17.9],[2.45,17.5],[2.35,16.8],[2.5,16],[2.3,15.3],[2.45,14.3],[2.3,13.7],[2.4,13],[2.55,13.2],[2.3,12.4],[2.45,11.8],[2.25,11.4],[2.35,10.6],[2.2,9.8],[2.3,9],[2.15,8.6],[2.25,7.6]];
var cRedBody = [[2,20],[2.08,20],[2.12,16],[2.12,12],[2.05,9],[2,9]];
var cOrange = [[-1.85,38.6],[-1.25,35.9],[1.15,36.4],[1.3,36.8],[1.35,37],[1.65,36.9],[1.2,34.7],[1.1,34.4],[-1.95,31.6],[-1.9,31.7],[-1.6,31],[-1.4,31],[-1.25,31],[-1.8,30.4],[-1.5,30.4],[-1.95,30.2],[1.25,31.9],[1.4,32.1],[1.55,32],[1.75,32],[1.75,31],[1.3,30.5],[1.55,30.2],[1.7,30.2],[1.9,30],[-1.3,30],[-1.75,29.8],[-1.55,29],[-1.25,28.9],[1,29.6],[1.2,28.9],[1.5,29],[1.65,28.5],[1.9,29.5],[-1.85,28.5],[-1.35,28.3],[-1.6,28],[-1.2,27.7],[1.25,27.8],[0.9,27.3],[1.4,27.5],[1.65,27.4],[1.9,27.6],[-1.75,27.1],[-1.45,26.8],[-1.15,26.9],[-1,26.4],[1.4,26.8],[1.7,26.6],[1.9,26.6],[-1.95,26],[-1.5,26],[-1.2,26],[-1.05,25.5],[-0.95,25.3],[1.45,25.8],[1.7,25.5],[1.1,25],[1.25,25],[1.9,25],[-1.9,25],[-1.65,25.2],[-1.4,25],[-1.1,24.7],[-0.9,24.4],[-0.8,24],[1.3,24.3],[1.55,24.4],[1.8,24.2],[-1.6,24],[-1.3,24.2],[1.4,23.5],[1.7,23.4],[0.95,23],[1.2,23.2],[-0.75,22.4],[-0.5,18.7],[-0.4,18.6],[-0.55,18],[-0.3,15],[-0.25,13],[0.35,15.6],[0.42,15.1],[0.55,17.8],[0.7,20.7],[0.65,19],[-1.95,6],[-1.75,4.9],[-1.6,4.9],[-1.5,4],[-1.9,9],[-1.95,3.1],[-1.2,4],[-1.45,3.3],[1.6,3.6],[1.7,4],[1.85,4.6],[1.75,5],[1.95,5.5],[1.75,7],[1.9,8],
	[-1.97,23],[-1.8,23.8],[-1.5,23.6],[-1.2,23.7],[-1,23],[-0.9,22.2],[-0.78,20.5],[-0.7,19],[-0.62,18],[-0.52,16.5],[-0.42,15],[-0.36,13.8],[-0.26,11.5],[-0.2,10],[-1.9,8.8],[-1.8,7.5],[-1.7,6],[-1.55,6.5],[-1.4,4.6],[-1.2,3],[-1.05,2.6],[1.9,6],[1.95,9],[1.95,12],[1.9,15],[1.95,18],[1.85,20.5],[1.6,22.8],[1.35,23],[1.1,23.5],[0.95,23],[0.75,21.5],[0.6,18.5],[0.5,16.5],[0.42,14.6],[0.3,12.5],[0.2,10.6]];
var cBody = [[-0.01,3.3],[-0.17,9.3],[-0.33,13.5],[-0.63,17.7],[-0.83,21.6],[-1.09,23.3],[-1.88,23.3],[-1.98,19.9],[-1.98,12.2],[-1.88,8.8],[-1.55,5.4],[-0.96,2.2],[-0.7,1.2],[0.75,1.2],[1.14,2],[1.8,4.2],[1.96,7.1],[1.96,19.9],[1.8,21.6],[1.14,22],[0.81,20.7],[0.55,17.3],[0.29,13.1],[0.09,8.8],[0.01,3.3]];
var cOrangeZones = [[[-1.98,30],[-1.35,30],[-0.95,25],[-0.85,22],[-1.9,22.5]],[[0.95,22],[1.15,26],[1.4,31],[1.95,31],[1.95,20]]];
var cGreenZones = [[[-2.02,30],[-3,30],[-3.2,26],[-3,20],[-2.8,15],[-2.4,12],[-2.02,10]]];
var cRedZones = [[[2.02,30],[2.6,30],[2.7,22],[2.6,15],[2.7,10],[2.02,7]]];
var cBlue = [[-0.85,1.2],[0.75,1.2],[0.25,0.1],[-0.01,-0.2],[-0.3,0.1]];
var cBlueDots = [[-1.1,1.2],[-1,1.3],[0.85,1],[-0.75,0.8]];

// ---- panel d, GSE33532 ----
var dXTicks = [-7,-6,-5,-4,-3,-2,-1,0,1,2,3,4,5,6];
var dYTicks = [65,60,55,50,45,40,35,30,25,20,15,10,5,1.3,0];
var dGreen = [[-3.55,59.6],[-3.55,57],[-2.7,52],[-3.1,51.5],[-4.05,51.1],[-2.8,49.6],[-3.55,47.1],[-3.1,46.6],[-4.4,45],[-4.35,44.6],[-2.65,44.3],[-2.25,45],[-2.25,44.3],[-3.6,43],[-3,42.9],[-2.8,42.4],[-2.5,42.4],[-5.5,42.2],[-4.95,41.9],[-4.35,41.9],[-4,42],[-3.65,41.9],[-3.6,41.7],[-2.55,41.8],[-2.4,41.5],[-2.2,41.4],[-3.5,40.6],[-2.9,40.6],[-3.15,40.2],[-2.1,40.2],[-2.7,39.6],[-2.3,39.2],[-3.45,38.7],[-3,38.4],[-2.5,38.4],[-2.1,38.4],[-4.85,37.2],[-4.4,37.1],[-4.3,37.1],[-3.75,37.2],[-3.25,37.1],[-3,37.2],[-2.75,37.1],[-2.2,37.3],[-2.1,37],[-4.6,36.6],[-4.45,36.4],[-3.45,36.6],[-3.15,36.6],[-2.6,36.3],[-4.9,35.4],[-3.5,35.4],[-3,35.4],[-2.4,35.4],[-4.25,34.9],[-2.5,34.9],[-2.1,34.5],[-2.7,34.4],[-4.1,34.3],[-3.25,34.2],[-3.05,34.3],[-2.85,34.1],[-2.65,33.9],[-3.6,33.8],[-3.4,33.4],[-2.45,33.4],[-2.15,33.3],[-5.9,33.5],[-3.5,32.3],[-3.2,32.4],[-2.35,32.6],[-4.6,31.8],[-4.65,31.5],[-3,31.8],[-2.8,31.6],[-2.6,31.2],[-2.35,31],[-2.15,31],[-4.5,30.9],[-4.25,30.9],[-4,30.8],[-4.45,30.6],[-3.1,30],[-2.6,30],[-2.25,30],[-2.05,30],[-4.1,29.2],[-3.15,29.2],[-2.65,29.1],[-2.45,29],[-2.2,29.4],[-3.55,28.4],[-3.3,28],[-3,28],[-2.7,28.1],[-2.4,27.8],[-3.55,27.8],[-3.8,27.6],[-3.3,27],[-3.15,26.9],[-2.85,26.9],[-2.5,26.8],[-2.25,26.6],[-5,26.4],[-3.7,26.2],[-3.4,26.1],[-3.05,26.3],[-2.75,26.2],[-2.45,25.9],[-3.55,25.6],[-3.35,25.5],[-3.15,25.6],[-2.85,25.3],[-2.2,25.5],[-5.05,25],[-3.9,24.8],[-3.6,24.6],[-3,24.5],[-2.6,24.4],[-2.35,24.2],[-3.2,23.6],[-2.8,23.6],[-2.5,23.6],[-2.2,23.5],[-3.1,23],[-2.9,22.9],[-2.4,22.7],[-5.3,22.7],[-3.75,22.5],[-3.1,22.3],[-2.65,22.2],[-2.1,22.2],[-3.7,21.8],[-2.9,21.6],[-2.55,21.7],[-2.3,21.6],[-4,21.6],[-3.6,21.3],[-4.85,21.4],[-4.45,21.5],[-3,21],[-2.75,21],[-2.45,20.8],[-2.15,20.9],[-2.9,20.2],[-2.55,20],[-2.3,20.2],[-3,19.5],[-2.7,19.4],[-2.45,19.4],[-3.1,19.2],[-2.65,18.7],[-2.3,18.7],[-5.3,18.8],[-4.2,18.6],[-3.3,18.6],[-3.35,18.4],[-2.85,18.2],[-2.45,18.2],[-3.45,17.9],[-2.8,17.7],[-2.55,17.7],[-2.2,17.4],[-2.95,17],[-2.6,16.8],[-3.25,16.3],[-2.75,16.4],[-5.55,16.2],[-3.35,15.9],[-3.1,16],[-2.4,16],[-3.2,15.3],[-2.95,15.5],[-2.6,15.4],[-2.25,15.2],[-3.9,15.8],[-4.05,15.3],[-4.1,15.3],[-3.85,15],[-5.25,14.2],[-5.3,13.7],[-3.2,14.6],[-2.85,14.6],[-2.5,14.8],[-2.15,14.3],[-3.3,13.8],[-2.7,13.8],[-2.35,13.6],[-2.1,13.4],[-3.7,13],[-3.55,12.8],[-3.5,13.1],[-2.95,12.6],[-2.55,12.8],[-2.3,12.7],[-5.15,12.4],[-2.75,12],[-2.45,11.8],[-2.15,11.7],[-4.35,10.8],[-4.45,10.6],[-4.75,10.6],[-4.95,10.3],[-3.1,10.9],[-2.8,10.8],[-2.4,10.8],[-3.3,9.9],[-3.1,10.3],[-2.7,10],[-2.25,10],[-3.25,8.9],[-2.55,9.3],[-2.15,9.3],[-2.75,8.7],[-2.4,8.6],[-2.9,7.5],[-2.6,7.5],[-2.3,7.2],[-3.15,6.5],[-2.55,6.2],[-2.15,6.5],[-2.45,5.8],[-2.7,5.3],[-2.35,5],[-2.15,4.8],[-2.45,4.3],[-2.7,4.2],[-2.65,3.9],[-2.1,4],[-2.05,3.3],
	[-2.3,28.5],[-2.45,28],[-2.6,27.5],[-2.15,27.8],[-2.35,27],[-2.55,26.4],[-2.3,26],[-2.65,25.5],[-2.4,25],[-2.55,25],[-2.25,24.8],[-2.75,24.5],[-2.45,24.2],[-2.6,23.4],[-2.35,23],[-2.7,22.8],[-2.5,22.5],[-2.25,22.5],[-2.45,21.4],[-2.35,20.5],[-2.65,20.5],[-2.2,19.6],[-2.4,19.2],[-2.55,18.8],[-2.25,18],[-2.5,17],[-2.3,16.6],[-2.45,15.5],[-2.3,14.8],[-2.4,13.8],[-2.2,13],[-2.45,12.6],[-2.3,11.5],[-2.5,10.3],[-2.25,9.6],[-2.35,9],[-2.2,8.4]];
var dGreenBody = [[-2,29],[-2.1,28],[-2.15,24],[-2.1,18],[-2.08,12],[-2.03,9],[-2,9]];
var dRed = [[4.1,31.7],[3.85,30.6],[2.35,28],[3.4,27.3],[3.3,26.9],[4.6,25.6],[2.1,25.8],[2.35,24.7],[4.05,24],[4.3,23.7],[3,23.7],[4.9,22],[2.1,21.2],[2.25,21.3],[2.4,21.6],[4.15,21.6],[2.05,20.9],[3.25,21],[4.85,20.8],[3.3,20.6],[3.85,20.5],[3.35,20],[3.65,20.2],[3.1,20],[3,20],[2.6,19.6],[2.7,19.8],[2.6,19],[3.3,19],[2.1,18.8],[3.05,18.7],[3.2,18.3],[3.35,18.2],[2.3,18.3],[2.45,18.2],[3,17.9],[3.2,17.7],[3.55,17.7],[2.1,17.6],[2.25,17.5],[3.35,17.3],[2.45,17.2],[2.75,16.9],[2.9,16.8],[2.05,16.4],[2.2,16.7],[2.45,16.4],[2.6,16.2],[3.5,16.4],[4.3,16.3],[4.8,16.7],[5.3,16.3],[2.7,16],[2.85,16.1],[2.1,15.6],[2.3,15.8],[2.55,15.8],[3.05,15.7],[5.05,15.4],[2.05,15],[2.25,15],[2.45,15.1],[2.7,15.2],[2.9,14.9],[2.2,14.4],[2.4,14.3],[2.65,14.3],[3.2,14.1],[4.5,13.9],[2.05,13.9],[2.3,13.5],[2.55,13.6],[2.95,13.5],[3.4,13.3],[3.55,13.4],[2.15,13],[2.4,13],[2.75,12.8],[3,12.6],[2.05,12.4],[2.35,12.2],[2.6,12.3],[2.8,12.3],[3,12.1],[2.15,11.7],[2.45,11.6],[2.05,11],[2.25,11],[2.6,11],[2.85,10.9],[3.4,10.4],[2.05,10.4],[2.2,10.3],[2.5,10.2],[2.15,9.8],[2.4,9.6],[3.05,9.5],[2.05,9.2],[2.3,8.9],[2.55,8.7],[3.05,9],[2.8,8.2],[2.1,8.4],[2.35,8.2],[2.6,7.8],[2.15,7.6],[2.45,7.3],[2.7,7.3],[2.05,7],[2.3,6.7],[2.5,6.5],[3.4,6.4],[3.05,6.3],[3,6],[2.1,6.2],[2.2,5.8],[3.4,5.4],[2.05,5.5],[2.35,5.4],[2.8,5],[2.9,5.1],[2.1,4.8],[2.4,4.6],[2.55,4.5],[2.45,4.1],[2.6,4.3],[3,4.2],[2.2,4],[2.35,3.6],[2.55,3.4],[2.1,2.8],[2.15,2.6],
	[2.3,17.6],[2.45,16.9],[2.3,16.4],[2.35,15.4],[2.55,14.8],[2.15,14.6],[2.3,14.2],[2.45,13.7],[2.2,12.5],[2.35,12.6],[2.55,13],[2.25,11.4],[2.4,11],[2.15,10.6],[2.35,10.5],[2.6,10.4],[2.25,9.4],[2.4,9.2],[2.2,8.7],[2.45,8.4],[2.25,7.8],[2.35,7.2],[2.2,6.8],[2.4,6],[2.25,5.4],[2.45,5.2],[2.25,4.4],[2.35,4.6]];
var dRedBody = [[2,16],[2.08,16],[2.12,14],[2.1,10],[2.06,7],[2,5]];
var dOrange = [[-1.85,39.6],[-1.95,39.5],[-1.6,38.6],[-1.95,38],[-1.5,37.6],[-1.95,36.2],[-1.85,36.2],[-1.6,36.2],[-1.13,35.8],[-1.85,34.9],[-1.3,34.8],[-1.65,34],[-1.9,34],[-1.95,33.6],[-1.3,33],[-1.7,33],[-1,33],[-1.5,32.6],[-1.2,32],[-1.6,32],[-1.9,32],[-1.4,31.4],[-1.8,31],[-1.1,31],[-1.55,31],[-1.7,30],[-1.35,30],[-1.05,30.5],[-1.9,30],[-1.5,29.5],[-1.2,29],[-1.7,29],[-1,29],[-1.9,28.5],[-1.45,28],[-1.1,28],[-1.75,27.7],[-0.95,28.2],[-1.3,27.4],[-1.55,27],[-1.95,27],[-1.05,26.5],[-1.8,26],[-0.8,25.8],[-1.35,26],[-1.6,25.5],[-1.15,25.2],[-1.9,25],[-0.95,24.6],[-1.45,24.6],[-1.7,24],[-1.25,24],[-0.85,24],[-1.95,23.8],[-1.5,23.5],[-1.05,23.4],[-0.65,22.7],[-0.6,21.8],[-1.75,23],[-1.3,23],[-0.7,20.7],[-0.5,19.7],[-0.45,18.3],[-0.4,16.4],[1.4,37.2],[1.68,35],[1.75,32.4],[1.6,32],[1.8,27.9],[1.95,26.6],[1,27.4],[1.1,27],[1.25,27],[1.4,27.3],[1.95,25.3],[1.35,25.4],[1.2,25],[1.25,24.4],[1.3,25.6],[0.8,24.8],[1.15,24],[1.3,23.8],[1.95,23.7],[1.8,24],[1.05,23.4],[1.3,23],[1.4,22.8],[1.6,23],[1.35,22],[1.15,22.4],[0.7,21.8],[0.85,22],[1.35,21.6],[1.5,21],[1.65,21.7],[1.8,21.6],[0.45,20.7],[0.6,20.5],[1.4,20.6],[1.9,20.4],[1.6,20],[0.5,19.3],[1.55,19],[1.75,18.3],[1.95,18.5],[1.65,17.6],[1.85,17],[1.95,16.5],[1.7,16.3],[-1.85,5],[-1.6,4.5],[-1.55,3.9],[-1.45,3.3],[-1.9,4.2],
	[-1.97,22],[-1.75,22.6],[-1.5,22.8],[-1.2,22.6],[-1,22.2],[-0.85,21.3],[-0.7,20],[-0.62,18.7],[-0.55,17.5],[-0.45,15.6],[-0.38,14],[-0.3,11],[-0.25,9],[-0.2,7.5],[0.1,7],[0.15,8.5],[0.22,10.5],[0.3,13.8],[0.35,15.5],[0.5,18.6],[0.62,19.6],[0.85,20],[1,20.9],[1.2,20.5],[1.35,19],[1.5,17],[1.75,16],[1.97,16],[-1.85,5.2],[-1.7,4.6]];
var dBody = [[-0.02,1.2],[-0.18,6.5],[-0.33,12.5],[-0.49,16.4],[-0.75,20.8],[-1.17,22.5],[-2,21.4],[-2,5.4],[-1.37,3.7],[-1.27,1.3],[1.9,1.3],[1.99,14.8],[1.54,15.9],[1.12,21.1],[0.71,19.7],[0.4,17.5],[0.24,12],[0.08,5.4],[0.02,1.2]];
var dOrangeZones = [[[-1.98,34],[-1.2,32],[-0.9,27],[-0.65,22],[-1.2,22],[-1.98,21]],[[0.85,21],[1.3,25.5],[1.6,22.5],[1.95,24],[1.95,15],[1.5,15],[1.1,20.5]]];
var dGreenZones = [[[-2.02,30],[-2.7,29],[-2.9,24],[-2.8,18],[-2.6,12],[-2.3,8],[-2.02,8]]];
var dRedZones = [[[2.02,17],[2.7,18],[2.9,15],[2.6,10],[2.6,5],[2.3,3],[2.02,3]]];
var dBlue = [[-0.95,1.2],[0.95,1.1],[0.3,0.2],[0,-0.3],[-0.3,0.2]];
var dBlueDots = [[1,1.2],[0.8,1.2],[-0.9,1],[-0.7,0.7]];

// ---- cut-offs ----
var fcCut = [-2,2];
var pCut = 1.3;

// ---- venn ----
var vennSets = ['GSE101929','GSE18842','GSE19188','GSE33532'];
var upCounts = ['1','131','109','15','1','21','19','19','32','13','92','25','17','1','0'];
var upPcts = ['(0.2%)','(26.4%)','(22%)','(3%)','(0.2%)','(4.2%)','(3.8%)','(3.8%)','(6.5%)','(2.6%)','(18.5%)','(5%)','(3.4%)','(0.2%)','(0%)'];
var downCounts = ['14','207','72','23','7','32','14','32','32','32','214','69','33','22','2'];
var downPcts = ['(1.7%)','(25.7%)','(8.9%)','(2.9%)','(0.9%)','(4%)','(1.7%)','(4%)','(4%)','(4%)','(26.6%)','(8.6%)','(4.1%)','(2.7%)','(0.2%)'];

// layout, all of it below here
var TICK_FONT = 34, BLACK = '#000';
var C_GREEN = '#70ad47', C_RED = '#c00000', C_BLUE = '#5b9bd5', C_ORANGE = '#ed7d31', C_ORANGE_A = '#d06c2a';

var panels = [
	{letter:'a', name:'GSE19188', frame:[90.5,5.8,841,638.4], left:125.6, right:806, top:36.4, bottom:607.9,
		xMin:-5, xMax:5, xInt:1, yMax:55, xTicks:aXTicks, yTicks:aYTicks,
		xNudge:[-5,-11,-7,-8,-8,-2,-1,-1,-3,4,1], xDrop:[33,33,33,33,33,33,33,34,33,33,33],
		yNudge:[5,5,3,2,1,0,5,0,0,5,6,-1.5,10], yGap:-12,
		green:aGreen, red:aRed, orange:aOrange, body:aBody, blue:aBlue, blueDots:aBlueDots, colorOrange:C_ORANGE_A,
		oz:aOrangeZones, gz:aGreenZones, rz:aRedZones,
		xT:[458.6,684.5], nameT:[455.3,725.6], yT:[20.8,283.6], letterAt:[30,26.7], size:7},
	{letter:'b', name:'GSE101929', frame:[1033.7,5.8,1798.6,635], left:1069.6, right:1763.8, top:36.4, bottom:605,
		xMin:-8, xMax:8, xInt:2, yMax:35, xTicks:bXTicks, yTicks:bYTicks,
		xNudge:[-4.5,-5.6,-7.3,-7.3,-3.6,-0.5,0.5,1,-1], xDrop:[38,38,38,38,38,38,38,38,38],
		yNudge:[12,6,4,0,0,0,-11,-3,12], yGap:-10.7,
		green:bGreen, greenBody:bGreenBody, red:bRed, redBody:bRedBody, orange:bOrange, body:bBody, blue:bBlue, blueDots:bBlueDots, colorOrange:C_ORANGE,
		oz:bOrangeZones, gz:bGreenZones, rz:bRedZones,
		xT:[1414.7,680], nameT:[1410.3,719.8], yT:[976.5,293.3], letterAt:[973.7,25], size:7},
	{letter:'c', name:'GSE18842', frame:[105,782,841,1493.6], left:139.3, right:807.5, top:818.8, bottom:1457,
		xMin:-8, xMax:8, xInt:2, yMax:50, xTicks:cXTicks, yTicks:cYTicks,
		xNudge:[1.6,-4.7,-5.2,-4,0.5,-1,0.5,1.4,0], xDrop:[37,37,37,37,37,37,42,37,38],
		yNudge:[3,4,6,0,1,6,1.6,0,7,6.5,5,10], yGap:-7.7,
		green:cGreen, greenBody:cGreenBody, red:cRed, redBody:cRedBody, orange:cOrange, body:cBody, blue:cBlue, blueDots:cBlueDots, colorOrange:C_ORANGE,
		oz:cOrangeZones, gz:cGreenZones, rz:cRedZones,
		xT:[466.8,1548.9], nameT:[465.7,1590], yT:[49.4,1122.3], letterAt:[31,801], size:7},
	{letter:'d', name:'GSE33532', frame:[1028.7,782.3,1798.6,1492.5], left:1063.5, right:1763.8, top:818.8, bottom:1456.7,
		xMin:-7, xMax:6, xInt:1, yMax:65, xTicks:dXTicks, yTicks:dYTicks,
		xNudge:[2.8,-0.5,-2,-2.8,-3.4,-4,-2.2,2.8,1,0.5,4,2,4.5,2.2], xDrop:[45,45,45,45,45,44,40,41,40,41,40,42,45,45],
		yNudge:[5.4,2.4,4,0,1.6,1,0,-3,2,-3,1,5,7,3.5,16], yGap:-8.4,
		green:dGreen, greenBody:dGreenBody, red:dRed, redBody:dRedBody, orange:dOrange, body:dBody, blue:dBlue, blueDots:dBlueDots, colorOrange:C_ORANGE,
		oz:dOrangeZones, gz:dGreenZones, rz:dRedZones,
		xT:[1454.6,1547.8], nameT:[1453.5,1588.4], yT:[981,1114], letterAt:[973.7,805], size:6.5}
];

var grids = [], xAxes = [], yAxes = [], series = [], graphics = [];

// speckle for the crowded zones, one tile of overlapping dots
var tileDots = [[3,5],[14,2],[25,6],[37,3],[43,12],[8,13],[19,11],[31,13],[2,21],[13,20],[24,18],[36,21],[44,25],[7,28],[18,27],[29,25],[39,31],[3,36],[12,35],[23,33],[33,36],[43,40],[8,43],[18,41],[28,42],[37,44],[15,14],[27,22],[6,20],[34,8],[21,37],[41,19],[10,6],[31,30],[16,33],[45,33]];
function speckle(color, n) {
	var size = 46, cv = document.createElement('canvas');
	cv.width = size; cv.height = size;
	var g = cv.getContext('2d');
	g.fillStyle = color;
	tileDots.slice(0, n).forEach(function (d) {
		[-size, 0, size].forEach(function (ox) {
			[-size, 0, size].forEach(function (oy) {
				g.beginPath();
				g.arc(d[0] + ox, d[1] + oy, 3.4, 0, Math.PI * 2);
				g.fill();
			});
		});
	});
	return {image: cv, repeat: 'repeat'};
}

function bodySeries(i, pts, color, dot, fill) {
	return {
		type: 'custom', xAxisIndex: i, yAxisIndex: i, silent: true, data: pts, z: 2,
		renderItem: function (params, api) {
			if (params.dataIndex !== 0) return;
			return {
				type: 'polygon',
				shape: {points: pts.map(function (p) { return api.coord(p); })},
				style: {fill: fill || color, stroke: color, lineWidth: dot, lineDash: [0.1, 5, 0.1, 8, 0.1, 6.5], lineCap: 'round', lineJoin: 'round'}
			};
		}
	};
}
function dotSeries(i, pts, color, size) {
	return {type:'scatter', xAxisIndex:i, yAxisIndex:i, data:pts, symbolSize:size, silent:true, z:3, large:false, clip:false,
		itemStyle:{color:color, opacity:1}};
}
function cutSeries(i, pts) {
	return {type:'line', xAxisIndex:i, yAxisIndex:i, data:pts, symbol:'none', silent:true, z:5, clip:false, animation:false,
		lineStyle:{color:'#222', width:2, type:[2,2.6]}};
}

panels.forEach(function (p, i) {
	grids.push({left:p.left, top:p.top, width:p.right - p.left, height:p.bottom - p.top});
	xAxes.push({gridIndex:i, type:'value', min:p.xMin, max:p.xMax, interval:p.xInt, splitLine:{show:false},
		axisLine:{onZero:false, lineStyle:{color:BLACK, width:2.5}},
		axisTick:{inside:true, length:11, lineStyle:{color:BLACK, width:2}}, axisLabel:{show:false}});
	yAxes.push({gridIndex:i, type:'value', min:0, max:p.yMax, interval:5, splitLine:{show:false},
		axisLine:{onZero:false, lineStyle:{color:BLACK, width:2.5}},
		axisTick:{inside:true, length:11, lineStyle:{color:BLACK, width:2}}, axisLabel:{show:false}});

	var oSpeck = speckle(p.colorOrange, 36), gSpeck = speckle(C_GREEN, 26), rSpeck = speckle(C_RED, 24);
	series.push(bodySeries(i, p.blue, C_BLUE, 6));
	series.push(dotSeries(i, p.blueDots, C_BLUE, p.size));
	p.oz.forEach(function (z) { series.push(bodySeries(i, z, p.colorOrange, 6.5, oSpeck)); });
	series.push(bodySeries(i, p.body, p.colorOrange, 7));
	series.push(dotSeries(i, p.orange, p.colorOrange, p.size));
	p.gz.forEach(function (z) { series.push(bodySeries(i, z, C_GREEN, 6.5, gSpeck)); });
	if (p.greenBody) series.push(bodySeries(i, p.greenBody, C_GREEN, 6.5));
	series.push(dotSeries(i, p.green, C_GREEN, p.size));
	p.rz.forEach(function (z) { series.push(bodySeries(i, z, C_RED, 6.5, rSpeck)); });
	if (p.redBody) series.push(bodySeries(i, p.redBody, C_RED, 6.5));
	series.push(dotSeries(i, p.red, C_RED, p.size));

	// cut-off lines
	fcCut.forEach(function (c) { series.push(cutSeries(i, [[c,0],[c,p.yMax]])); });
	series.push(cutSeries(i, [[p.xMin,pCut],[p.xMax - 0.005 * (p.xMax - p.xMin),pCut]]));

	// tick labels sit off their ticks in the original, so place them one by one
	series.push({type:'custom', xAxisIndex:i, yAxisIndex:i, silent:true, z:6, data:p.xTicks,
		renderItem:function (params, api) {
			var c = api.coord([p.xTicks[params.dataIndex], 0]);
			return {type:'text', x:c[0] + p.xNudge[params.dataIndex], y:c[1] + p.xDrop[params.dataIndex],
				style:{text:String(p.xTicks[params.dataIndex]), fill:BLACK, font:TICK_FONT + 'px "Liberation Sans"', textAlign:'center', textVerticalAlign:'middle'}};
		}});
	series.push({type:'custom', xAxisIndex:i, yAxisIndex:i, silent:true, z:6, data:p.yTicks,
		renderItem:function (params, api) {
			var c = api.coord([p.xMin, p.yTicks[params.dataIndex]]);
			return {type:'text', x:c[0] + p.yGap, y:c[1] + p.yNudge[params.dataIndex],
				style:{text:String(p.yTicks[params.dataIndex]), fill:BLACK, font:TICK_FONT + 'px "Liberation Sans"', textAlign:'right', textVerticalAlign:'middle'}};
		}});

	graphics.push({type:'rect', shape:{x:p.frame[0], y:p.frame[1], width:p.frame[2]-p.frame[0], height:p.frame[3]-p.frame[1]},
		style:{fill:'none', stroke:'#d9d9d9', lineWidth:2}, silent:true, z:-1});
	graphics.push(sans('Log2(FC)', p.xT[0], p.xT[1], 34));
	graphics.push(sans(p.name, p.nameT[0], p.nameT[1], 34));
	var yt = sans('-Log10(P.Value)', p.yT[0], p.yT[1], 36);
	yt.rotation = Math.PI / 2;
	graphics.push(yt);
	graphics.push(bold(p.letter, p.letterAt[0], p.letterAt[1]));
});

// salmon stray point on the axis in panel a
series.push({type:'scatter', xAxisIndex:0, yAxisIndex:0, data:[[-1.93,0]], symbol:'rect', symbolSize:[10,5], silent:true, clip:false, z:4,
	itemStyle:{color:'#f4a582'}});

function sans(t, x, y, size) {
	return {type:'text', x:x, y:y, silent:true, style:{text:t, fill:BLACK, font:size + 'px "Liberation Sans"', textAlign:'center', textVerticalAlign:'middle'}};
}
function bold(t, x, y) {
	return {type:'text', x:x, y:y, silent:true, style:{text:t, fill:BLACK, font:'bold 36px "Liberation Sans"', textAlign:'center', textVerticalAlign:'middle'}};
}
function serif(t, x, y, size, color) {
	return {type:'text', x:x, y:y, silent:true, style:{text:t, fill:color, font:size + 'px "Liberation Serif"', textAlign:'center', textVerticalAlign:'middle'}};
}

// venn panels, spots are read in zoomed crop pixels and scaled back
var setColors = ['#808000','#008000','#0000ff','#ff0000'];
var ellipseFill = ['rgba(0,0,255,0.35)','rgba(255,255,0,0.35)','rgba(0,255,0,0.35)','rgba(255,0,0,0.35)'];
var venns = [
	{letter:'e', ox:0, sx:1.704, counts:upCounts, pcts:upPcts, title:'up-regulation', titleAt:[793,1518], letterAt:[52,68],
		cx:[545,777.5,830.5,1063], rx:315, ry:153, ang:42.7,
		spots:[[302,715,758],[572,375,417],[1037,375,417],[1305,715,758],[457,555,598],[804,543,585],[1152,555,598],[615,755,798],[993,755,798],[515,975,1018],[804,936,978],[1093,975,1018],[688,1080,1123],[920,1080,1123],[804,1196,1240]],
		setAt:[[495,176],[1112,176],[302,1298],[1305,1298]]},
	{letter:'f', ox:920, sx:1.736, counts:downCounts, pcts:downPcts, title:'down-regulation', titleAt:[867,1527], letterAt:[103,62],
		cx:[569,811,867.5,1110], rx:321.9, ry:148.9, ang:41.75,
		spots:[[315,715,758],[597,375,417],[1081,375,417],[1364,715,758],[476,555,598],[838,543,585],[1202,555,598],[641,755,798],[1037,755,798],[536,975,1018],[838,936,978],[1141,975,1018],[718,1080,1123],[960,1080,1123],[838,1196,1240]],
		setAt:[[516,176],[1161,176],[314,1298],[1363,1298]]}
];
var VY = 1640, SY = 1.862;
var ellipseY = [877.5,737.5,737.5,877.5];
var ellipseSign = [-1,-1,1,1];
venns.forEach(function (v) {
	var X = function (d) { return v.ox + d / v.sx; }, Y = function (d) { return VY + d / SY; };
	v.cx.forEach(function (c, k) {
		graphics.push({type:'ellipse', x:X(c), y:Y(ellipseY[k]), rotation:ellipseSign[k] * v.ang * Math.PI / 180, silent:true,
			shape:{cx:0, cy:0, rx:v.rx, ry:v.ry}, style:{fill:ellipseFill[k], stroke:BLACK, lineWidth:2}});
	});
	v.spots.forEach(function (s, k) {
		graphics.push(serif(v.counts[k], X(s[0]), Y(s[1]), 30, '#000'));
		graphics.push(serif(v.pcts[k], X(s[0]), Y(s[2]), 23, '#000'));
	});
	v.setAt.forEach(function (s, k) {
		graphics.push(serif(vennSets[k], X(s[0]), Y(s[1]), 30, setColors[k]));
	});
	graphics.push(sans(v.title, X(v.titleAt[0]), Y(v.titleAt[1]), 34));
	graphics.push(bold(v.letter, X(v.letterAt[0]), Y(v.letterAt[1])));
});

var chart = echarts.init(document.getElementById('main'), null, {renderer:'canvas'});
chart.setOption({
	animation: false,
	backgroundColor: '#fff',
	grid: grids,
	xAxis: xAxes,
	yAxis: yAxes,
	series: series,
	graphic: {elements: graphics}
});
</script>
</body>
</html>
